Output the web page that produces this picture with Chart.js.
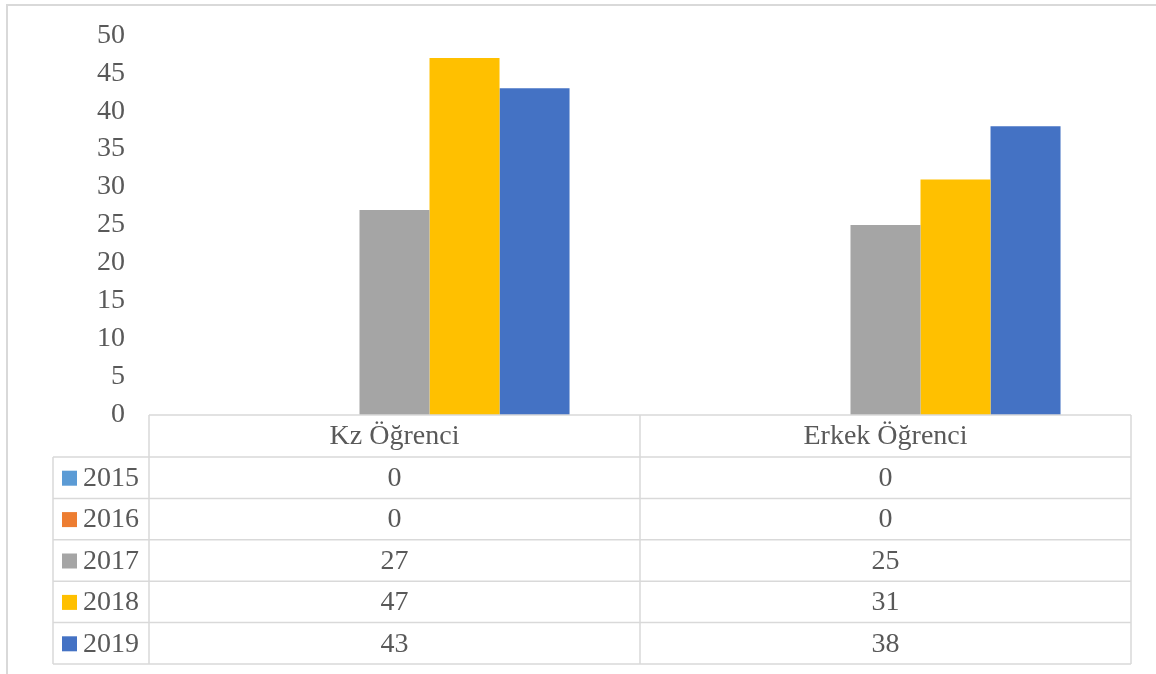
<!DOCTYPE html>
<html>
<head>
<meta charset="utf-8">
<script src="https://cdn.jsdelivr.net/npm/chart.js@4"></script>
<style>
  html, body { margin: 0; padding: 0; background: #fff; }
  #wrap { width: 1156px; height: 674px; }
</style>
</head>
<body>
<div id="wrap"><canvas id="chartUI" width="1156" height="674"></canvas></div>
<script>
// podaci
var categories = ['Kz Öğrenci', 'Erkek Öğrenci'];
var years = ['2015', '2016', '2017', '2018', '2019'];
var values2015 = [0, 0];
var values2016 = [0, 0];
var values2017 = [27, 25];
var values2018 = [47, 31];
var values2019 = [43, 38];
var yTicks = [0, 5, 10, 15, 20, 25, 30, 35, 40, 45, 50];
var colors = ['#5b9bd5', '#ed7d31', '#a5a5a5', '#ffc000', '#4472c4'];

var seriesValues = [values2015, values2016, values2017, values2018, values2019];
var FONT = '"Liberation Serif", "Times New Roman", serif';
var TEXT = '#595959';
var LINE = '#d9d9d9';

// tabela podataka ispod grafika
var dataTablePlugin = {
	id: 'dataTable',
	afterDraw: function(chart) {
		var c = chart.ctx;
		var area = chart.chartArea;
		var xs = chart.scales.x;
		var top = area.bottom;
		var headerH = 42;
		var rowH = 41.4;
		var legendLeft = 53;
		var bottom = top + headerH + rowH * years.length;
		var half = (area.right - area.left) / categories.length / 2;

		c.save();
		// okvir
		c.strokeStyle = LINE;
		c.lineWidth = 2;
		c.strokeRect(7, 5, 1160, 700);

		c.lineWidth = 1.5;
		c.beginPath();
		c.moveTo(area.left, top); c.lineTo(area.right, top);
		for (var i = 0; i <= years.length; i++) {
			var y = top + headerH + rowH * i;
			c.moveTo(legendLeft, y); c.lineTo(area.right, y);
		}
		c.moveTo(legendLeft, top + headerH); c.lineTo(legendLeft, bottom);
		c.moveTo(area.left, top); c.lineTo(area.left, bottom);
		categories.forEach(function(cat, j) {
			var xr = xs.getPixelForValue(j) + half;
			c.moveTo(xr, top); c.lineTo(xr, bottom);
		});
		c.stroke();

		c.font = '28px ' + FONT;
		c.fillStyle = TEXT;
		c.textBaseline = 'middle';
		c.textAlign = 'center';
		categories.forEach(function(cat, j) {
			c.fillText(cat, xs.getPixelForValue(j), top + headerH / 2 + 1);
		});

		years.forEach(function(yr, i) {
			var cy = top + headerH + rowH * i + rowH / 2 + 1;
			c.fillStyle = colors[i];
			c.fillRect(62, cy - 8, 15, 15);
			c.fillStyle = TEXT;
			c.textAlign = 'left';
			c.fillText(yr, 83, cy);
			c.textAlign = 'center';
			categories.forEach(function(cat, j) {
				c.fillText(String(seriesValues[i][j]), xs.getPixelForValue(j), cy);
			});
		});
		c.restore();
	}
};

var datasets = years.map(function(yr, i) {
	return {
		label: yr,
		data: seriesValues[i],
		backgroundColor: colors[i],
		borderWidth: 0
	};
});

var chart = new Chart(document.getElementById('chartUI'), {
	type: 'bar',
	data: { labels: categories, datasets: datasets },
	options: {
		responsive: false,
		animation: false,
		events: [],
		layout: { padding: { left: 0, top: 35, right: 25, bottom: 259 } },
		datasets: { bar: { categoryPercentage: 0.713, barPercentage: 1.0 } },
		plugins: { legend: { display: false }, tooltip: { enabled: false } },
		scales: {
			x: { display: false },
			y: {
				min: 0,
				max: 50,
				afterBuildTicks: function(scale) {
					scale.ticks = yTicks.map(function(v) { return { value: v }; });
				},
				afterFit: function(scale) { scale.width = 149; },
				grid: { display: false, drawTicks: false },
				border: { display: false },
				ticks: {
					padding: 24,
					color: TEXT,
					font: { family: FONT, size: 28, lineHeight: 0.8 }
				}
			}
		}
	},
	plugins: [dataTablePlugin]
});
</script>
</body>
</html>
